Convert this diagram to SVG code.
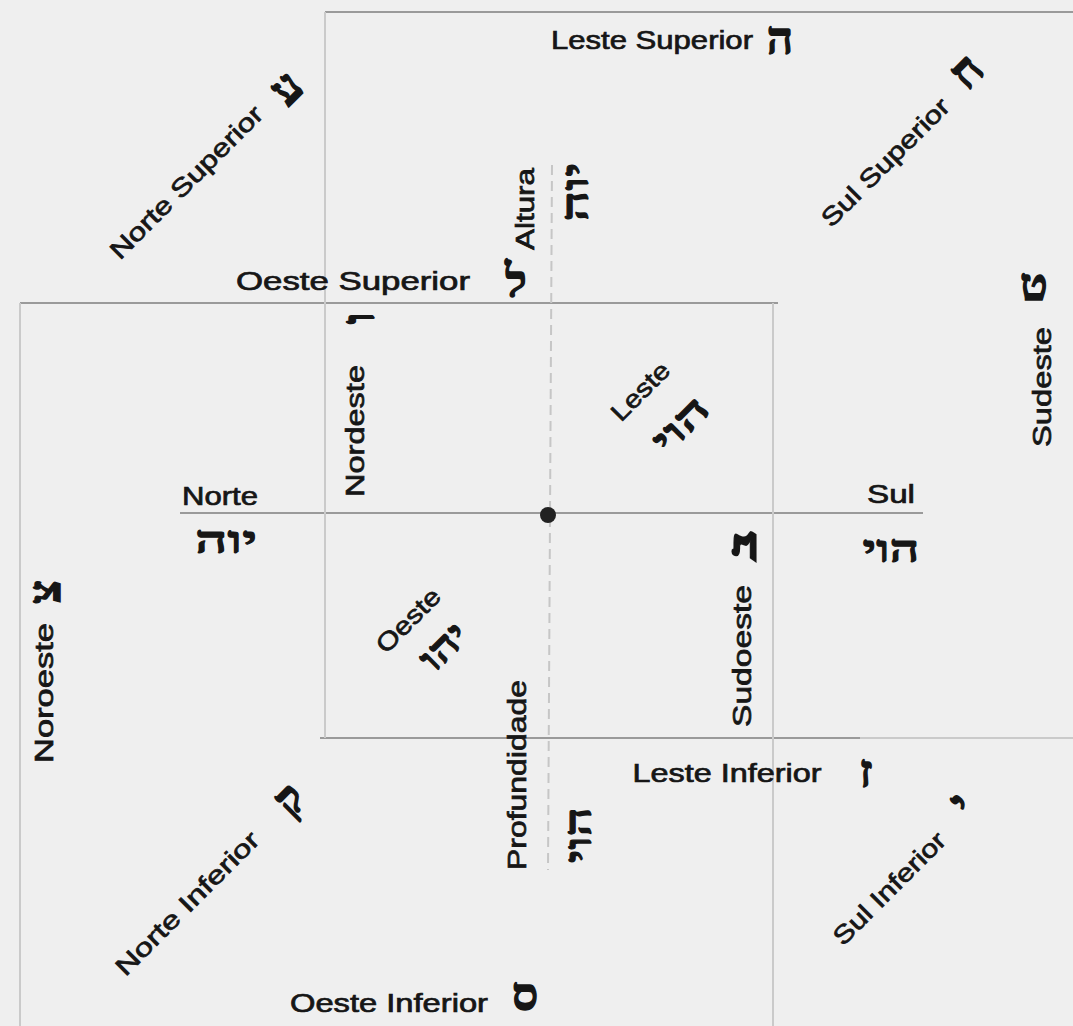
<svg xmlns="http://www.w3.org/2000/svg" width="1073" height="1026" viewBox="0 0 1073 1026">
<style>
.lbl{font-family:"Liberation Sans","DejaVu Sans",sans-serif;font-size:25px;fill:#161616;stroke:#161616;stroke-width:0.7;text-anchor:middle}
.heb{font-family:"Liberation Serif","DejaVu Sans",serif;font-size:38px;font-weight:bold;fill:#161616;stroke:#161616;stroke-width:1;text-anchor:middle}
.big{font-size:46px;stroke-width:1.4}
.huge{font-size:58px;stroke-width:1.6}
.ln{stroke:#9a9a9a;stroke-width:2;fill:none}
.fn{stroke:#cacaca;stroke-width:2;fill:none}
.dl{stroke:#c6c6c6;stroke-width:2;fill:none;stroke-dasharray:10 6}
</style>
<rect width="1073" height="1026" fill="#efefef"/>
<g id="connectors">
<line class="ln" x1="325" y1="12" x2="1073" y2="12"/>
<line class="ln" x1="20" y1="303" x2="778" y2="303"/>
<line class="ln" x1="180" y1="513" x2="923" y2="513"/>
<line class="ln" x1="320" y1="738" x2="860" y2="738"/>
<line class="fn" x1="860" y1="738" x2="1073" y2="738"/>
<line class="fn" x1="325" y1="12" x2="325" y2="738"/>
<line class="fn" x1="20" y1="303" x2="20" y2="1026"/>
<line class="fn" x1="773" y1="303" x2="773" y2="1026"/>
<line class="dl" x1="552" y1="165" x2="548" y2="870"/>
</g>
<g id="centro"><circle cx="548" cy="515" r="8" fill="#222"/></g>
<g id="leste-superior">
<text class="lbl" x="652" y="49" textLength="202" lengthAdjust="spacingAndGlyphs">Leste Superior</text>
<text class="heb big" x="780" y="54">ה</text>
</g>
<g id="norte-superior">
<text class="lbl" transform="translate(186,182) rotate(-45)" x="0" y="9" textLength="205" lengthAdjust="spacingAndGlyphs">Norte Superior</text>
<text class="heb big" transform="translate(287,89) rotate(-45)" x="0" y="14">ע</text>
</g>
<g id="sul-superior">
<text class="lbl" transform="translate(885,162) rotate(-45)" x="0" y="9" textLength="170" lengthAdjust="spacingAndGlyphs">Sul Superior</text>
<text class="heb big" transform="translate(967,72) rotate(-45)" x="0" y="14">ח</text>
</g>
<g id="altura">
<text class="lbl" transform="translate(525,209) rotate(-90)" x="0" y="9" textLength="82" lengthAdjust="spacingAndGlyphs">Altura</text>
<text class="heb" transform="translate(576,192) rotate(-90)" x="0" y="12" textLength="59" lengthAdjust="spacingAndGlyphs">יוה</text>
</g>
<g id="oeste-superior">
<text class="lbl" x="353" y="290" textLength="234" lengthAdjust="spacingAndGlyphs">Oeste Superior</text>
<text class="heb big" x="516" y="297">ל</text>
</g>
<g id="nordeste">
<text class="lbl" transform="translate(355,431) rotate(-90)" x="0" y="9" textLength="132" lengthAdjust="spacingAndGlyphs">Nordeste</text>
<text class="heb big" transform="translate(360,318) rotate(-90)" x="0" y="14">ו</text>
</g>
<g id="leste">
<text class="lbl" transform="translate(640,391) rotate(-45)" x="0" y="9" textLength="72" lengthAdjust="spacingAndGlyphs">Leste</text>
<text class="heb" transform="translate(681,425) rotate(-45)" x="0" y="12" textLength="64" lengthAdjust="spacingAndGlyphs">הוי</text>
</g>
<g id="sudeste">
<text class="lbl" transform="translate(1042,387) rotate(-90)" x="0" y="9" textLength="120" lengthAdjust="spacingAndGlyphs">Sudeste</text>
<text class="heb big" x="1034" y="300">ט</text>
</g>
<g id="norte">
<text class="lbl" x="220" y="505" textLength="76" lengthAdjust="spacingAndGlyphs">Norte</text>
<text class="heb" x="226" y="553" textLength="62" lengthAdjust="spacingAndGlyphs">יוה</text>
</g>
<g id="sul">
<text class="lbl" x="891" y="503" textLength="48" lengthAdjust="spacingAndGlyphs">Sul</text>
<text class="heb" x="891" y="562" textLength="57" lengthAdjust="spacingAndGlyphs">הוי</text>
</g>
<g id="sudoeste">
<text class="lbl" transform="translate(742,656) rotate(-90)" x="0" y="9" textLength="142" lengthAdjust="spacingAndGlyphs">Sudoeste</text>
<text class="heb huge" transform="translate(744,544) rotate(-90) scale(1.9,0.7)" x="0" y="17">נ</text>
</g>
<g id="oeste">
<text class="lbl" transform="translate(408,620) rotate(-45)" x="0" y="9" textLength="80" lengthAdjust="spacingAndGlyphs">Oeste</text>
<text class="heb" transform="translate(444,647) rotate(-45)" x="0" y="12" textLength="52" lengthAdjust="spacingAndGlyphs">יהו</text>
</g>
<g id="noroeste">
<text class="lbl" transform="translate(44,693) rotate(-90)" x="0" y="9" textLength="140" lengthAdjust="spacingAndGlyphs">Noroeste</text>
<text class="heb big" transform="translate(46,592) rotate(-90)" x="0" y="14">צ</text>
</g>
<g id="profundidade">
<text class="lbl" transform="translate(517,775) rotate(-90)" x="0" y="9" textLength="190" lengthAdjust="spacingAndGlyphs">Profundidade</text>
<text class="heb" transform="translate(579,835) rotate(-90)" x="0" y="12" textLength="56" lengthAdjust="spacingAndGlyphs">הוי</text>
</g>
<g id="leste-inferior">
<text class="lbl" x="727" y="782" textLength="189" lengthAdjust="spacingAndGlyphs">Leste Inferior</text>
<text class="heb big" x="866" y="787">ז</text>
</g>
<g id="norte-inferior">
<text class="lbl" transform="translate(187,903) rotate(-45)" x="0" y="9" textLength="192" lengthAdjust="spacingAndGlyphs">Norte Inferior</text>
<text class="heb big" transform="translate(290,800) rotate(-45)" x="0" y="14">ק</text>
</g>
<g id="sul-inferior">
<text class="lbl" transform="translate(889,888) rotate(-45)" x="0" y="9" textLength="148" lengthAdjust="spacingAndGlyphs">Sul Inferior</text>
<text class="heb big" transform="translate(962,805) rotate(-45)" x="0" y="14">י</text>
</g>
<g id="oeste-inferior">
<text class="lbl" x="389" y="1012" textLength="198" lengthAdjust="spacingAndGlyphs">Oeste Inferior</text>
<text class="heb big" x="525" y="1010">ס</text>
</g>
</svg>
